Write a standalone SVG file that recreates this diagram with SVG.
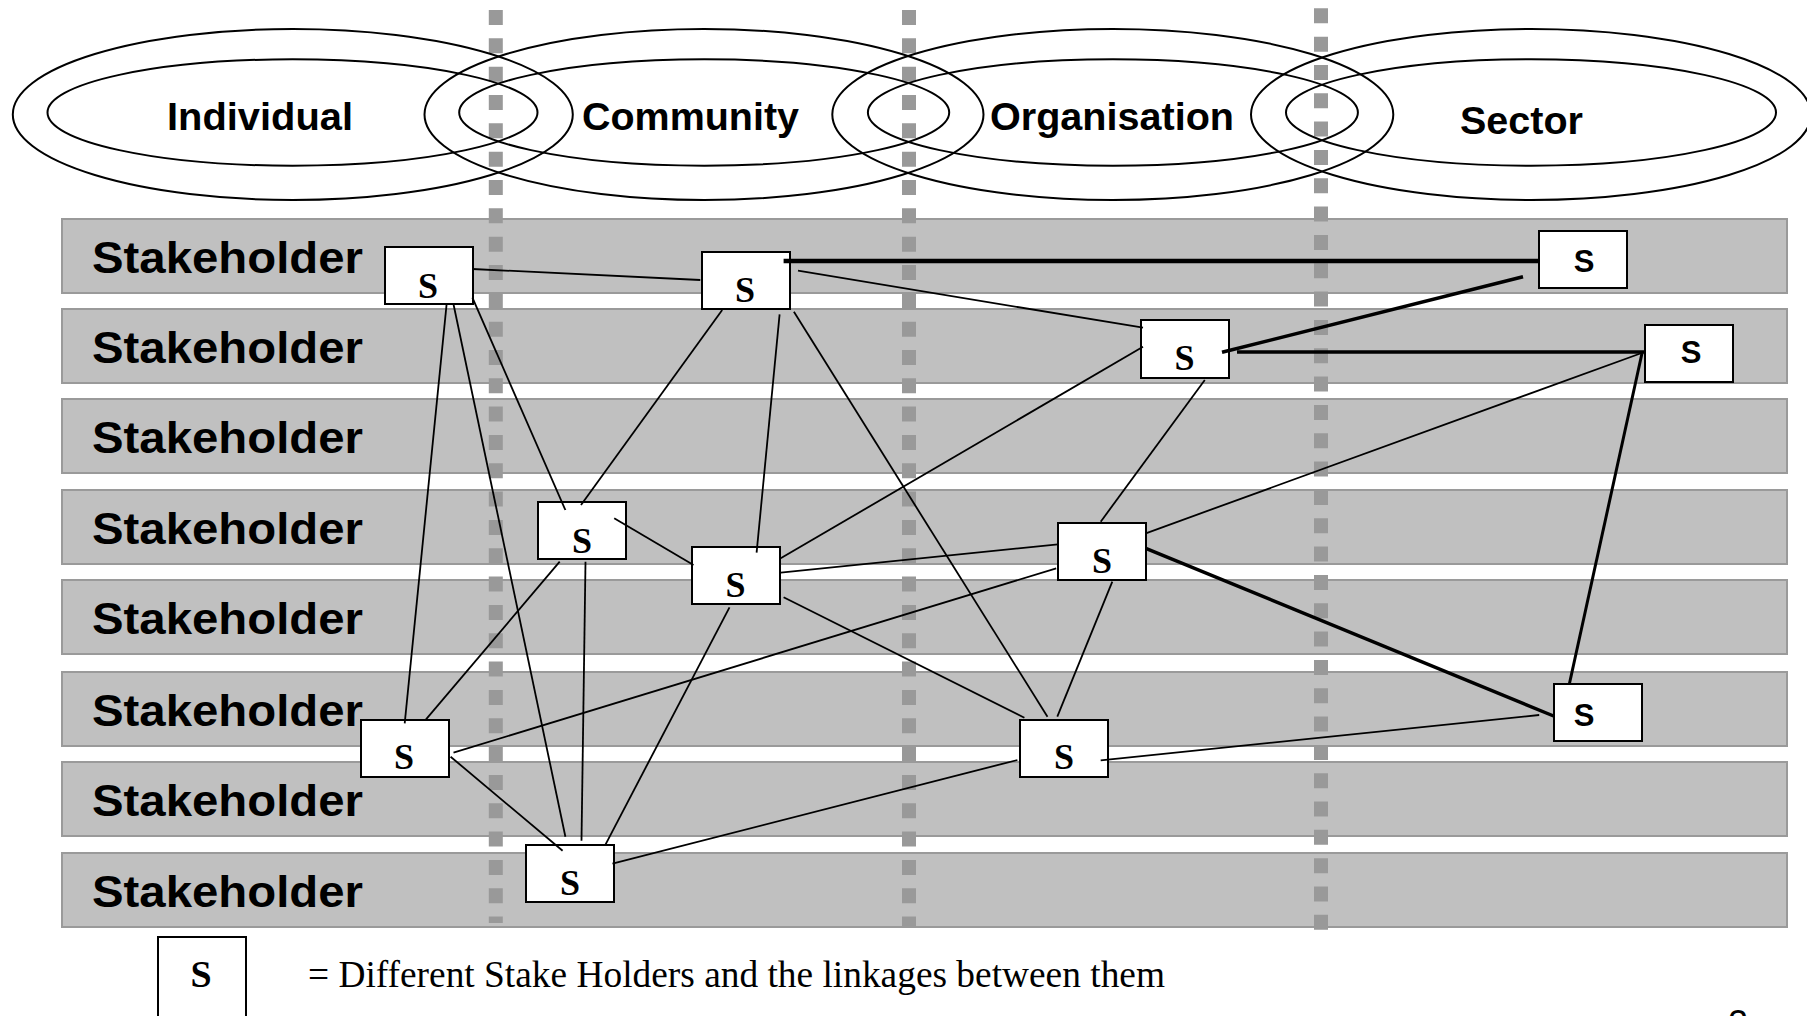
<svg xmlns="http://www.w3.org/2000/svg" width="1807" height="1016" viewBox="0 0 1807 1016">
<style>
.band{fill:#c0c0c0;stroke:#9a9a9a;stroke-width:2}
.dash{stroke:#999;stroke-width:14;stroke-dasharray:15 13.33;fill:none}
.ell{fill:none;stroke:#000;stroke-width:2}
.lab{font-family:"Liberation Sans",Arial,sans-serif;font-weight:bold;font-size:38px;fill:#000}
.sh{font-family:"Liberation Sans",Arial,sans-serif;font-weight:bold;font-size:45px;fill:#000}
.box{fill:#fff;stroke:#000;stroke-width:2}
.st{font-family:"Liberation Serif","Times New Roman",serif;font-weight:bold;font-size:36px;fill:#000;text-anchor:middle}
.sa{font-family:"Liberation Sans",Arial,sans-serif;font-weight:bold;font-size:31px;fill:#000;text-anchor:middle}
.thin{stroke:#000;stroke-width:1.8;fill:none}
.thick{stroke:#000;stroke-width:3.5;fill:none}
.leg{font-family:"Liberation Serif","Times New Roman",serif;font-size:38px;fill:#000}
</style>
<rect width="1807" height="1016" fill="#fff"/>
<g id="bands">
<rect class="band" x="62" y="219" width="1725" height="74"/>
<rect class="band" x="62" y="309" width="1725" height="74"/>
<rect class="band" x="62" y="399" width="1725" height="74"/>
<rect class="band" x="62" y="490" width="1725" height="74"/>
<rect class="band" x="62" y="580" width="1725" height="74"/>
<rect class="band" x="62" y="672" width="1725" height="74"/>
<rect class="band" x="62" y="762" width="1725" height="74"/>
<rect class="band" x="62" y="853" width="1725" height="74"/>
</g>
<g id="dividers">
<line class="dash" x1="495.8" y1="10" x2="495.8" y2="923"/>
<line class="dash" x1="909" y1="10" x2="909" y2="928"/>
<line class="dash" x1="1321" y1="8.3" x2="1321" y2="930"/>
</g>
<g id="levels">
<g id="individual">
<ellipse class="ell" cx="292.8" cy="114.5" rx="280" ry="85.5"/>
<ellipse class="ell" cx="292.5" cy="112.5" rx="245" ry="53.2"/>
<text class="lab" x="167" y="130" textLength="186" lengthAdjust="spacingAndGlyphs">Individual</text>
</g>
<g id="community">
<ellipse class="ell" cx="704" cy="114.5" rx="279.5" ry="85.5"/>
<ellipse class="ell" cx="704.2" cy="112.5" rx="245" ry="53.2"/>
<text class="lab" x="582" y="130" textLength="217" lengthAdjust="spacingAndGlyphs">Community</text>
</g>
<g id="organisation">
<ellipse class="ell" cx="1112.8" cy="114.5" rx="280.5" ry="85.5"/>
<ellipse class="ell" cx="1112.9" cy="112.5" rx="245" ry="53.2"/>
<text class="lab" x="990" y="130" textLength="244" lengthAdjust="spacingAndGlyphs">Organisation</text>
</g>
<g id="sector">
<ellipse class="ell" cx="1531" cy="114.5" rx="280" ry="85.5"/>
<ellipse class="ell" cx="1531" cy="112.5" rx="245" ry="53.2"/>
<text class="lab" x="1460" y="134" textLength="123" lengthAdjust="spacingAndGlyphs">Sector</text>
</g>
</g>
<g id="band-labels">
<text class="sh" x="92" y="273" textLength="271" lengthAdjust="spacingAndGlyphs">Stakeholder</text>
<text class="sh" x="92" y="363" textLength="271" lengthAdjust="spacingAndGlyphs">Stakeholder</text>
<text class="sh" x="92" y="453" textLength="271" lengthAdjust="spacingAndGlyphs">Stakeholder</text>
<text class="sh" x="92" y="544" textLength="271" lengthAdjust="spacingAndGlyphs">Stakeholder</text>
<text class="sh" x="92" y="634" textLength="271" lengthAdjust="spacingAndGlyphs">Stakeholder</text>
<text class="sh" x="92" y="726" textLength="271" lengthAdjust="spacingAndGlyphs">Stakeholder</text>
<text class="sh" x="92" y="816" textLength="271" lengthAdjust="spacingAndGlyphs">Stakeholder</text>
<text class="sh" x="92" y="907" textLength="271" lengthAdjust="spacingAndGlyphs">Stakeholder</text>
</g>
<g id="n1"><rect class="box" x="385" y="247" width="88" height="57"/><text class="st" x="428" y="298">S</text></g>
<g id="n2"><rect class="box" x="702" y="252" width="88" height="57"/><text class="st" x="745" y="302">S</text></g>
<g id="n3"><rect class="box" x="1539" y="231" width="88" height="57"/><text class="sa" x="1584" y="272">S</text></g>
<g id="n4"><rect class="box" x="1645" y="325" width="88" height="57"/><text class="sa" x="1691" y="363">S</text></g>
<g id="n5"><rect class="box" x="1141" y="320" width="88" height="58"/><text class="st" x="1184.5" y="370">S</text></g>
<g id="n6"><rect class="box" x="1058" y="523" width="88" height="57"/><text class="st" x="1102" y="573">S</text></g>
<g id="n7"><rect class="box" x="538" y="502" width="88" height="57"/><text class="st" x="582" y="552.5">S</text></g>
<g id="n8"><rect class="box" x="692" y="547" width="88" height="57"/><text class="st" x="735.5" y="596.5">S</text></g>
<g id="n9"><rect class="box" x="361" y="720" width="88" height="57"/><text class="st" x="404" y="769">S</text></g>
<g id="n10"><rect class="box" x="526" y="845" width="88" height="57"/><text class="st" x="570" y="895">S</text></g>
<g id="n11"><rect class="box" x="1020" y="720" width="88" height="57"/><text class="st" x="1064" y="769">S</text></g>
<g id="n12"><rect class="box" x="1554" y="684" width="88" height="57"/><text class="sa" x="1584" y="726">S</text></g>
<g id="connectors">
<line class="thin" x1="472.4" y1="269" x2="700.3" y2="280"/>
<line class="thick" style="stroke-width:4.5" x1="783.6" y1="261" x2="1538.6" y2="261"/>
<line class="thin" x1="798" y1="270.7" x2="1143" y2="327.7"/>
<line class="thick" x1="1523" y1="276.7" x2="1222" y2="352.3"/>
<line class="thick" x1="1237" y1="352" x2="1644.5" y2="352"/>
<line class="thin" x1="1644.5" y1="352" x2="1145.8" y2="533.3"/>
<line class="thick" style="stroke-width:3" x1="1642" y1="353.3" x2="1569.3" y2="684.3"/>
<line class="thin" x1="1143" y1="346.7" x2="780.7" y2="558.3"/>
<line class="thin" x1="1204.8" y1="380" x2="1100.7" y2="521.7"/>
<line class="thin" x1="1057.9" y1="544.3" x2="780.7" y2="572.7"/>
<line class="thick" x1="1145.8" y1="548.3" x2="1553.6" y2="716"/>
<line class="thin" x1="1056.2" y1="568.3" x2="453.5" y2="752.7"/>
<line class="thin" x1="1112.3" y1="581.7" x2="1057.3" y2="716.7"/>
<line class="thin" x1="1539.2" y1="715" x2="1100.7" y2="760.3"/>
<line class="thin" x1="1017.4" y1="760" x2="612.5" y2="863.7"/>
<line class="thin" x1="793.9" y1="311.7" x2="1047.5" y2="716.7"/>
<line class="thin" x1="783.6" y1="597.3" x2="1024.4" y2="717.7"/>
<line class="thin" x1="779.6" y1="314.3" x2="756.6" y2="552.7"/>
<line class="thin" x1="722.2" y1="310" x2="581" y2="505"/>
<line class="thin" x1="472.4" y1="297.7" x2="565.4" y2="510"/>
<line class="thin" x1="446.6" y1="304.3" x2="404.7" y2="723.3"/>
<line class="thin" x1="453.5" y1="304.3" x2="565.4" y2="836.7"/>
<line class="thin" x1="614.2" y1="518.3" x2="693.5" y2="565"/>
<line class="thin" x1="585.5" y1="561.7" x2="581.5" y2="840.7"/>
<line class="thin" x1="559.7" y1="561.7" x2="426" y2="719.3"/>
<line class="thin" x1="450.6" y1="756.7" x2="562.6" y2="850.7"/>
<line class="thin" x1="729.5" y1="607.3" x2="605.6" y2="844.3"/>
</g>
<g id="legend">
<rect class="box" x="158" y="937" width="88" height="100"/>
<text class="st" x="201" y="987" style="font-size:38px">S</text>
<text class="leg" x="308" y="987" textLength="857" lengthAdjust="spacingAndGlyphs">= Different Stake Holders and the linkages between them</text>
</g>
<text x="1728" y="1036" style="font-family:'Liberation Sans',Arial,sans-serif;font-size:36px">2</text>
</svg>
